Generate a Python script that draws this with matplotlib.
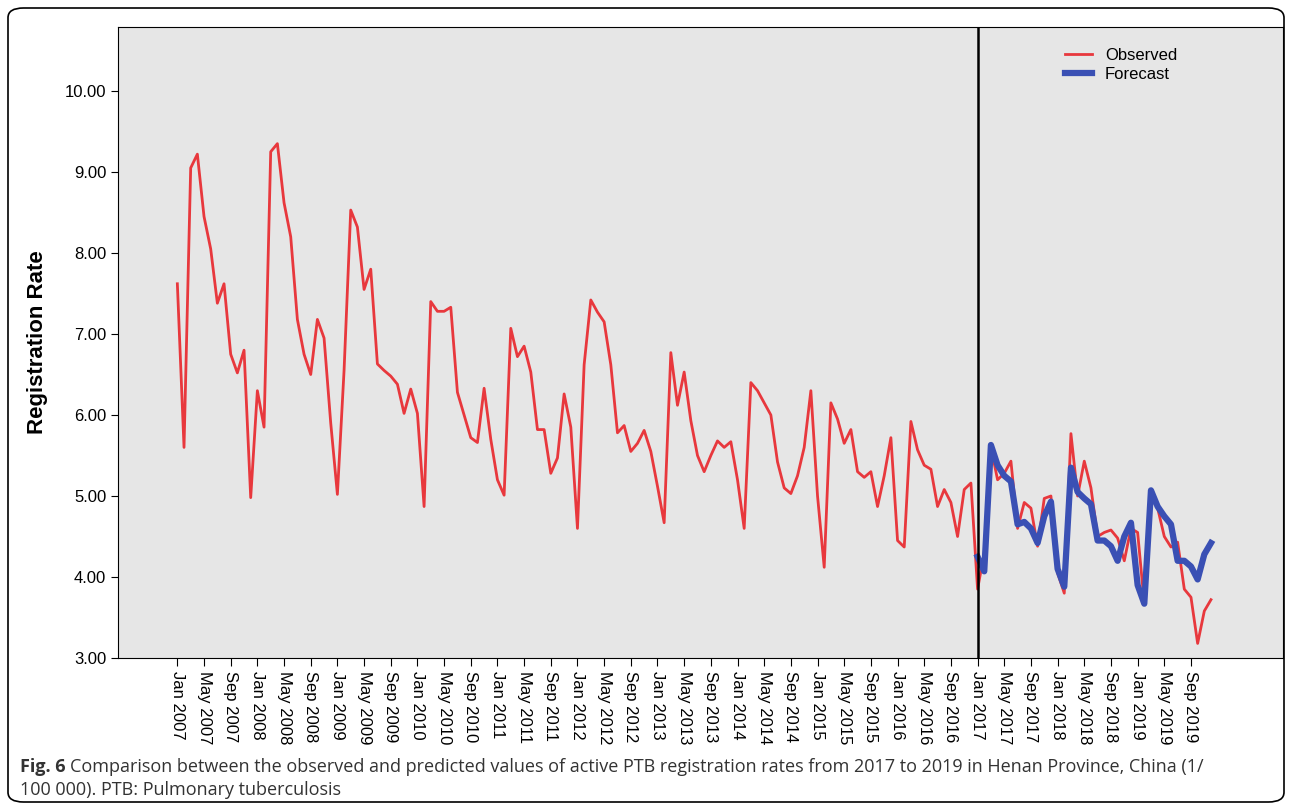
import matplotlib
matplotlib.use("Agg")
import matplotlib.pyplot as plt
from matplotlib.patches import FancyBboxPatch
import numpy as np
plt.rcParams['font.family'] = ['Liberation Sans', 'DejaVu Sans']

observed = [
 7.62,5.6,9.05,9.22,8.45,8.05,7.38,7.62,6.75,6.52,6.8,4.98,
 6.3,5.85,9.25,9.35,8.62,8.2,7.18,6.75,6.5,7.18,6.95,5.9,
 5.02,6.55,8.53,8.32,7.55,7.8,6.63,6.55,6.48,6.38,6.02,6.32,
 6.02,4.87,7.4,7.28,7.28,7.33,6.28,6.0,5.72,5.66,6.33,5.7,
 5.2,5.01,7.07,6.72,6.85,6.53,5.82,5.82,5.28,5.47,6.26,5.85,
 4.6,6.62,7.42,7.27,7.15,6.62,5.78,5.87,5.55,5.65,5.81,5.55,
 5.12,4.67,6.77,6.12,6.53,5.93,5.5,5.3,5.5,5.68,5.6,5.67,
 5.2,4.6,6.4,6.3,6.15,6.0,5.42,5.1,5.03,5.25,5.6,6.3,
 5.0,4.12,6.15,5.95,5.65,5.82,5.3,5.23,5.3,4.87,5.25,5.72,
 4.45,4.37,5.92,5.57,5.38,5.33,4.87,5.08,4.92,4.5,5.08,5.16,
 3.85,4.3,5.6,5.2,5.28,5.43,4.6,4.92,4.85,4.38,4.97,5.0,
 4.05,3.8,5.77,5.0,5.43,5.1,4.5,4.55,4.58,4.48,4.2,4.6,
 4.55,3.67,5.07,4.85,4.5,4.37,4.43,3.85,3.75,3.18,3.58,3.72]
forecast = [
 4.25,4.07,5.63,5.38,5.25,5.18,4.65,4.68,4.6,4.42,4.75,4.93,
 4.1,3.88,5.35,5.05,4.97,4.9,4.45,4.45,4.38,4.2,4.5,4.67,
 3.9,3.67,5.07,4.87,4.75,4.65,4.2,4.2,4.13,3.97,4.28,4.42]
months = ["Jan","May","Sep"]
tick_labels = [f"{m} {y}" for y in range(2007,2020) for m in months]
yticks = [3,4,5,6,7,8,9,10]

W,H = 1292,810
fig = plt.figure(figsize=(W/100,H/100),dpi=100)
box = FancyBboxPatch((8/W,8/H),(W-16)/W,(H-16)/H,
    boxstyle="round,pad=0,rounding_size=0.012",transform=fig.transFigure,
    facecolor="white",edgecolor="black",lw=1.2,zorder=-10)
fig.patches.append(box)
ax = fig.add_axes([118/W,1-658/H,(1283-118)/W,(658-27)/H])
ax.set_facecolor("#e6e6e6")
x_obs = np.arange(len(observed))
x_fc = np.arange(120,120+len(forecast))
ax.plot(x_obs,observed,color="#e8383d",lw=2,label="Observed")
ax.plot(x_fc,forecast,color="#3a50b4",lw=4.5,label="Forecast")
ax.axvline(120,color="black",lw=1.8)
ax.set_xlim(-8.9,165.8)
ax.set_ylim(3.0,10.79)
ax.set_yticks(yticks)
ax.set_yticklabels([f"{v:.2f}" for v in yticks],fontsize=12)
ax.set_xticks(np.arange(0,156,4))
ax.set_xticklabels(tick_labels,rotation=270,fontsize=12)
ax.tick_params(axis="x",length=6)
ax.tick_params(axis="y",length=5)
ax.set_ylabel("Registration Rate",fontsize=16,fontweight="bold",labelpad=12)
ax.legend(loc="upper left",bbox_to_anchor=(0.8,0.99),frameon=False,fontsize=12,handlelength=1.6,labelspacing=0.2)
cap = dict(fontsize=13,color="#333333",va="center",family=["Open Sans","DejaVu Sans"])
fig.text(20/W,1-767/H,"Fig. 6",fontweight="bold",**cap)
fig.text(70/W,1-767/H,"Comparison between the observed and predicted values of active PTB registration rates from 2017 to 2019 in Henan Province, China (1/",**cap)
fig.text(20/W,1-790/H,"100 000). PTB: Pulmonary tuberculosis",**cap)
fig.savefig("out.png",dpi=100)
